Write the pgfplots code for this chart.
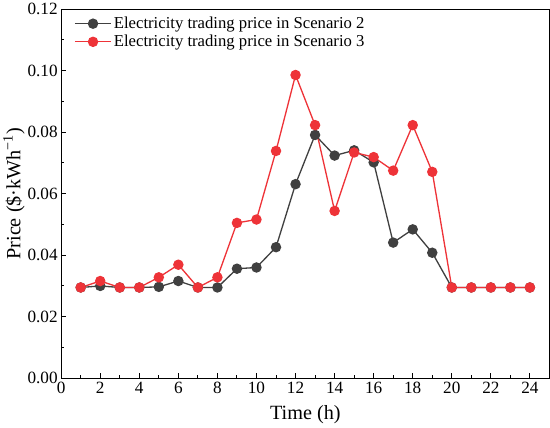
\documentclass[border=0pt]{standalone}
\usepackage{fontspec}
\setmainfont{Liberation Serif}
\usepackage{pgfplots}
\pgfplotsset{compat=1.18}
\definecolor{sgrey}{HTML}{404040}
\definecolor{sred}{HTML}{EE3338}
\begin{document}
\begin{tikzpicture}
\begin{axis}[
  scale only axis,
  width=483pt, height=365pt,
  xmin=0, xmax=25, ymin=0, ymax=0.12,
  xtick={0,2,...,24}, minor xtick={1,3,...,23},
  xticklabels={0,2,4,6,8,10,12,14,16,18,20,22,24},
  ytick={0,0.02,0.04,0.06,0.08,0.10,0.12}, minor y tick num=1,
  yticklabels={0.00,0.02,0.04,0.06,0.08,0.10,0.12},
  tick align=inside,
  xtick pos=bottom, ytick pos=left,
  major tick length=5pt, minor tick length=3pt,
  tick style={black, line width=0.9pt},
  axis line style={line width=1.1pt},
  ticklabel style={font=\fontsize{17}{17}\selectfont},
  scaled y ticks=false,
  xlabel={Time (h)},
  ylabel={Price (\$·kWh\textsuperscript{−1})},
  label style={font=\fontsize{20}{20}\selectfont},
  xlabel style={yshift=-5pt},
  ylabel style={yshift=-4pt},
  legend style={draw=none, fill=none, at={(0.02,0.99)}, anchor=north west, font=\fontsize{16.5}{18}\selectfont, row sep=1pt},
  legend cell align=left,
  legend image code/.code={\draw[mark repeat=2,mark phase=2] plot coordinates {(0pt,0pt) (18pt,0pt) (36pt,0pt)};},
]
\addplot[sgrey, line width=1.3pt, mark=*, mark size=4.5pt, mark options={fill=sgrey, draw=sgrey}] coordinates {
(1,0.0295) (2,0.0300) (3,0.0295) (4,0.0295) (5,0.0297) (6,0.0316) (7,0.0295) (8,0.0295)
(9,0.0356) (10,0.0360) (11,0.0426) (12,0.0631) (13,0.0791) (14,0.0724) (15,0.0741) (16,0.0702)
(17,0.0441) (18,0.0484) (19,0.0408) (20,0.0295) (21,0.0295) (22,0.0295) (23,0.0295) (24,0.0295)};
\addlegendentry{Electricity trading price in Scenario 2}
\addplot[sred, line width=1.3pt, mark=*, mark size=4.5pt, mark options={fill=sred, draw=sred}] coordinates {
(1,0.0295) (2,0.0316) (3,0.0295) (4,0.0295) (5,0.0328) (6,0.0369) (7,0.0295) (8,0.0328)
(9,0.0505) (10,0.0516) (11,0.0739) (12,0.0986) (13,0.0823) (14,0.0544) (15,0.0734) (16,0.0719)
(17,0.0675) (18,0.0823) (19,0.0671) (20,0.0295) (21,0.0295) (22,0.0295) (23,0.0295) (24,0.0295)};
\addlegendentry{Electricity trading price in Scenario 3}
\end{axis}
\end{tikzpicture}
\end{document}
